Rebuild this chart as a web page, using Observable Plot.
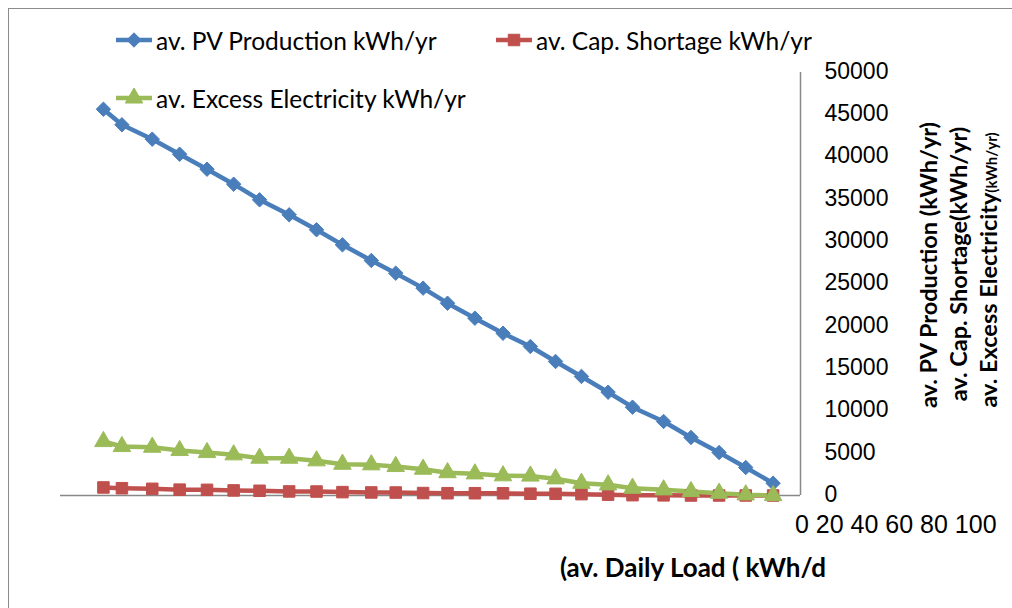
<!DOCTYPE html>
<html>
<head>
<meta charset="utf-8">
<script src="https://cdn.jsdelivr.net/npm/d3@7"></script>
<script src="https://cdn.jsdelivr.net/npm/@observablehq/plot@0.6"></script>
<style>
  html, body { margin: 0; padding: 0; background: #fff; }
  #wrap { position: relative; width: 1012px; height: 608px; overflow: hidden; background: #fff; }
  #border { position: absolute; left: 8px; top: 8px; width: 1100px; height: 700px; border: 1.5px solid #8c8c8c; box-sizing: border-box; }
  #chart { position: absolute; left: 0; top: 0; }
  .leg { position: absolute; display: flex; align-items: center; font-family: Lato, "Open Sans", sans-serif; font-size: 24.5px; color: #000; white-space: nowrap; }
  .leg svg { margin-right: 3px; }
  .ytitle { position: absolute; transform: translate(-50%, -50%) rotate(-90deg); white-space: nowrap; font-family: Lato, "Open Sans", sans-serif; font-weight: bold; font-size: 23.5px; color: #000; }
  .xtitle { position: absolute; transform: translate(-50%, -50%); white-space: nowrap; font-family: Lato, "Open Sans", sans-serif; font-weight: bold; font-size: 26px; color: #000; }
  .xticks { position: absolute; transform: translate(0, -50%); white-space: nowrap; font-family: "Liberation Sans", Arial, sans-serif; font-size: 25px; color: #000; }
</style>
</head>
<body>
<div id="wrap">
  <div id="border"></div>
  <div id="chart"></div>
</div>
<script>
// ---- data ----
const loadKWhPerDay = [5.8, 8.3, 12.4, 16.1, 19.8, 23.4, 26.9, 30.9, 34.6, 38.1, 42.0, 45.3, 49.0, 52.3, 56.0, 59.8, 63.5, 66.9, 70.4, 74.0, 77.3, 81.5, 85.2, 89.0, 92.6, 96.3];
const pvProduction = [45660, 43820, 42120, 40340, 38570, 36800, 34950, 33180, 31410, 29630, 27780, 26280, 24510, 22730, 20960, 19180, 17610, 15840, 14070, 12210, 10440, 8750, 6860, 5080, 3310, 1450];
const capShortage = [950, 860, 790, 690, 670, 600, 560, 480, 470, 400, 360, 350, 290, 270, 270, 260, 210, 200, 160, 100, 40, 20, 0, 0, 0, 0];
const excessElectricity = [6380, 5790, 5710, 5320, 5080, 4810, 4410, 4410, 4100, 3700, 3630, 3430, 3110, 2700, 2560, 2330, 2300, 1970, 1450, 1260, 860, 670, 470, 270, 80, 0];
const seriesNames = ["av. PV Production kWh/yr", "av. Cap. Shortage kWh/yr", "av. Excess Electricity kWh/yr"];
const seriesColors = ["#4a7ebb", "#c0504d", "#9bbb59"];
const seriesSymbols = ["diamond2", "square", "triangle"];
const yTicks = [0, 5000, 10000, 15000, 20000, 25000, 30000, 35000, 40000, 45000, 50000];
const xTickLabels = [0, 20, 40, 60, 80, 100];
const yTitles = ["av.  PV Production (kWh/yr)", "av. Cap. Shortage(kWh/yr)", "av. Excess Electricity"];
const yTitleSmall = "(kWh/yr)";
const xTitle = "(av. Daily Load ( kWh/d";

// ---- tidy table ----
const seriesValues = [pvProduction, capShortage, excessElectricity];
const rows = [];
seriesValues.forEach((vals, s) => vals.forEach((v, i) => rows.push({series: seriesNames[s], load: loadKWhPerDay[i], value: v})));

const colorScale = {domain: seriesNames, range: seriesColors};
const symbolScale = {domain: seriesNames, range: seriesSymbols};

const chart = Plot.plot({
  width: 1012,
  height: 608,
  marginLeft: 60,
  marginRight: 212,
  marginTop: 72,
  marginBottom: 113,
  style: {fontFamily: "'Liberation Sans', Arial, sans-serif", fontSize: "23px", background: "transparent", color: "#000"},
  x: {domain: [0, 100], axis: null},
  y: {domain: [0, 50000], axis: null},
  color: colorScale,
  symbol: symbolScale,
  marks: [
    Plot.axisY({anchor: "right", ticks: yTicks, tickSize: 0, tickPadding: 24, tickFormat: d => String(d), fontSize: 23, dy: -1, label: null}),
    Plot.ruleY([0], {x1: 0, x2: 100, stroke: "#888", strokeWidth: 1.5}),
    Plot.ruleX([100], {y1: 0, y2: 50000, stroke: "#888", strokeWidth: 1.5}),
    Plot.line(rows, {x: "load", y: "value", z: "series", stroke: "series", strokeWidth: 4.5, curve: "linear"}),
    Plot.dot(rows, {x: "load", y: "value", symbol: "series", fill: "series", stroke: "series", strokeWidth: 1, r: 6.5})
  ]
});
document.getElementById("chart").appendChild(chart);

const wrap = document.getElementById("wrap");

// ---- legend ----
const legendPos = [{x: 115, y: 40}, {x: 495, y: 40}, {x: 115, y: 98}];
seriesNames.forEach((name, i) => {
  const div = document.createElement("div");
  div.className = "leg";
  div.style.left = legendPos[i].x + "px";
  div.style.top = (legendPos[i].y - 15) + "px";
  div.style.height = "30px";
  const sym = {diamond2: d3.symbolDiamond2, square: d3.symbolSquare, triangle: d3.symbolTriangle}[seriesSymbols[i]];
  const path = d3.symbol(sym, Math.PI * 42)();
  const w = 38;
  div.innerHTML = `<svg width="${w}" height="20" viewBox="0 0 ${w} 20"><line x1="1" x2="${w - 1}" y1="10" y2="10" stroke="${seriesColors[i]}" stroke-width="4.5"/><path d="${path}" transform="translate(${w / 2},10)" fill="${seriesColors[i]}" stroke="${seriesColors[i]}"/></svg><span>${name}</span>`;
  wrap.appendChild(div);
});

// ---- y axis titles (rotated) ----
const yTitlePos = [{x: 928, y: 265}, {x: 958, y: 264}, {x: 988, y: 270}];
yTitles.forEach((t, i) => {
  const d = document.createElement("div");
  d.className = "ytitle";
  d.style.left = yTitlePos[i].x + "px";
  d.style.top = yTitlePos[i].y + "px";
  d.textContent = t;
  if (i === 2) {
    const s = document.createElement("span");
    s.style.fontSize = "15px";
    s.textContent = yTitleSmall;
    d.appendChild(s);
  }
  wrap.appendChild(d);
});

// ---- x tick label row and x title ----
const xt = document.createElement("div");
xt.className = "xticks";
xt.style.left = "795px";
xt.style.top = "524px";
xt.textContent = xTickLabels.join(" ");
wrap.appendChild(xt);

const xti = document.createElement("div");
xti.className = "xtitle";
xti.style.left = "693px";
xti.style.top = "567px";
xti.textContent = xTitle;
wrap.appendChild(xti);
</script>
</body>
</html>
